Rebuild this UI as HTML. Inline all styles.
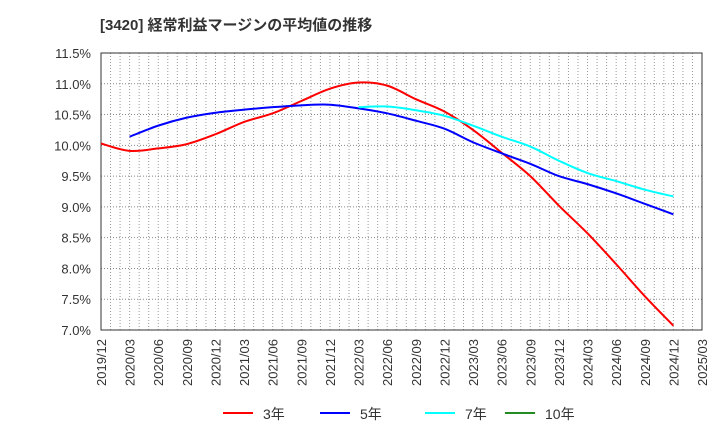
<!DOCTYPE html>
<html><head><meta charset="utf-8"><style>
body{margin:0;background:#fff;font-family:"Liberation Sans","Noto Sans CJK JP",sans-serif;}
svg text{font-family:"Liberation Sans","Noto Sans CJK JP",sans-serif;}
</style></head><body>
<svg id="chart" width="720" height="440">
<text x="100" y="30" font-size="15" font-weight="bold" fill="#333">[3420]  経常利益マージンの平均値の推移</text>
<g id="grid"></g><g id="axes"></g><g id="series"></g><g id="legend"></g>
</svg>
<script>
const xLabels=["2019/12","2020/03","2020/06","2020/09","2020/12","2021/03","2021/06","2021/09","2021/12","2022/03","2022/06","2022/09","2022/12","2023/03","2023/06","2023/09","2023/12","2024/03","2024/06","2024/09","2024/12","2025/03"];
const yTicks=[7.0,7.5,8.0,8.5,9.0,9.5,10.0,10.5,11.0,11.5];
const s3=[10.03,9.91,9.95,10.02,10.18,10.38,10.52,10.72,10.92,11.02,10.97,10.75,10.55,10.25,9.88,9.5,9.02,8.57,8.07,7.55,7.07];
const s5=[null,10.14,10.32,10.45,10.53,10.58,10.62,10.65,10.66,10.60,10.52,10.40,10.27,10.05,9.87,9.70,9.50,9.37,9.22,9.05,8.88];
const s7=[null,null,null,null,null,null,null,null,null,10.62,10.63,10.57,10.48,10.32,10.14,9.98,9.75,9.55,9.42,9.28,9.17];
const s10=[];
const L=101,R=702,T=53,B=330,NS="http://www.w3.org/2000/svg";
const xs=i=>L+i*(R-L)/(xLabels.length-1);
const ys=v=>B-(v-7.0)/(11.5-7.0)*(B-T);
function mk(p,tag,a){const e=document.createElementNS(NS,tag);for(const k in a)e.setAttribute(k,a[k]);p.appendChild(e);return e;}
const grid=document.getElementById('grid'),axes=document.getElementById('axes'),ser=document.getElementById('series'),leg=document.getElementById('legend');
for(let m=1;m<(xLabels.length-1)*3;m++){const x=L+m*(R-L)/((xLabels.length-1)*3);
const g=mk(grid,'line',{x1:x,x2:x,y1:T,y2:B,stroke:'#999','stroke-dasharray':'1,2'});

}
yTicks.forEach(v=>{const y=ys(v);
const g=mk(grid,'line',{x1:L,x2:R,y1:y,y2:y,stroke:'#888','stroke-dasharray':'1,2'});


const t=mk(axes,'text',{x:L-10,y:y+5,'font-size':13,'text-anchor':'end',fill:'#333'});t.textContent=v.toFixed(1)+'%';

});
xLabels.forEach((l,i)=>{const x=xs(i);
const t=mk(axes,'text',{transform:`translate(${x+5},${B+9}) rotate(-90)`,'font-size':13,'text-anchor':'end',fill:'#333'});t.textContent=l;

});
const fr=mk(axes,'rect',{x:L,y:T,width:R-L,height:B-T,fill:'none',stroke:'#333'});


function path(arr){const p=[];arr.forEach((v,i)=>{if(v!=null)p.push([xs(i),ys(v)]);});if(!p.length)return '';
let d=`M${p[0][0]},${p[0][1]}`;for(let i=0;i<p.length-1;i++){const p0=p[i-1]||p[i],p1=p[i],p2=p[i+1],p3=p[i+2]||p2;
d+=` C${p1[0]+(p2[0]-p0[0])/6},${p1[1]+(p2[1]-p0[1])/6} ${p2[0]-(p3[0]-p1[0])/6},${p2[1]-(p3[1]-p1[1])/6} ${p2[0]},${p2[1]}`;}return d;}
[[s3,'#ff0000','3年','series-3y'],[s5,'#0000ff','5年','series-5y'],[s7,'#00ffff','7年','series-7y'],[s10,'#228b22','10年','series-10y']].forEach(([a,c,n,id],k)=>{
const d=path(a);if(d){const e=mk(ser,'path',{d:d,fill:'none',stroke:c,'stroke-width':2});

}
const lx=[223,320,425,505][k];
const li=mk(leg,'line',{x1:lx,x2:lx+30,y1:413,y2:413,stroke:c,'stroke-width':2});


const t=mk(leg,'text',{x:lx+40,y:419,'font-size':14,fill:'#333'});t.textContent=n;

});
</script>
</body></html>
